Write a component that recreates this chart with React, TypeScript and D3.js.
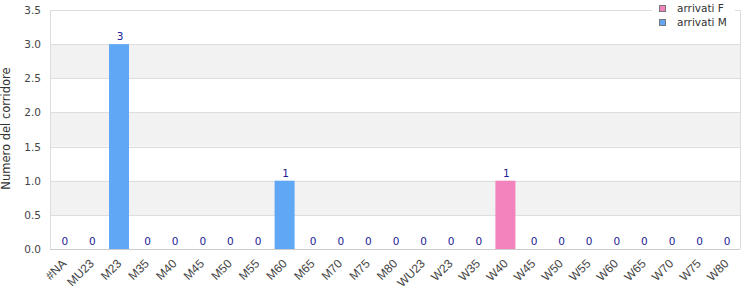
import React from "react";
import * as d3 from "d3";

const categories = ["#NA","MU23","M23","M35","M40","M45","M50","M55","M60","M65","M70","M75","M80","WU23","W23","W35","W40","W45","W50","W55","W60","W65","W70","W75","W80"];
const arrivatiF = [0,0,0,0,0,0,0,0,0,0,0,0,0,0,0,0,1,0,0,0,0,0,0,0,0];
const arrivatiM = [0,0,3,0,0,0,0,0,1,0,0,0,0,0,0,0,0,0,0,0,0,0,0,0,0];
const yTicks = [0,0.5,1,1.5,2,2.5,3,3.5];
const seriesNames = ["arrivati F","arrivati M"];
const colors = ["#f383bd","#60a8f5"];

export default function App() {
  const W = 750, H = 300;
  const left = 50, right = 740, top = 10, bottom = 249;
  const x = d3.scaleBand<string>().domain(categories).range([left, right]).padding(0);
  const y = d3.scaleLinear().domain([0, 3.5]).range([bottom, top]);
  const font = "DejaVu Sans, sans-serif";
  const barW = 20;
  return (
    <svg width={W} height={H} style={{ position: "absolute", left: 0, top: 0 }} fontFamily={font}>
      <rect x={0} y={0} width={W} height={H} fill="#fff" />
      {yTicks.slice(0, -1).map((t, i) => i % 2 === 1 ? (
        <rect key={"b" + i} x={left} y={y(t + 0.5)} width={right - left} height={y(t) - y(t + 0.5)} fill="#f2f2f2" />
      ) : null)}
      {yTicks.map((t) => (
        <line key={"g" + t} x1={left} x2={right} y1={Math.round(y(t)) + 0.5} y2={Math.round(y(t)) + 0.5} stroke="#dddddd" />
      ))}
      <line x1={left + 0.5} x2={left + 0.5} y1={top} y2={bottom} stroke="#dddddd" />
      <line x1={right + 0.5} x2={right + 0.5} y1={top} y2={bottom} stroke="#dddddd" />
      <line x1={left} x2={right} y1={Math.round(y(0)) + 0.5} y2={Math.round(y(0)) + 0.5} stroke="#cccccc" />
      {yTicks.map((t) => (
        <text key={"yl" + t} x={41} y={y(t) + 4} textAnchor="end" fontSize={10.5} fill="#444">{t.toFixed(1)}</text>
      ))}
      <text transform={`translate(10,${(top + bottom) / 2 - 1}) rotate(-90)`} textAnchor="middle" fontSize={11.5} fill="#333">Numero del corridore</text>
      {categories.map((c, i) => {
        const cx = (x(c) as number) + x.bandwidth() / 2;
        const f = arrivatiF[i], m = arrivatiM[i];
        const total = f + m;
        return (
          <g key={c}>
            {f > 0 && <rect x={cx - barW / 2} y={y(f)} width={barW} height={y(0) - y(f)} fill={colors[0]} />}
            {m > 0 && <rect x={cx - barW / 2} y={y(f + m)} width={barW} height={y(f) - y(f + m)} fill={colors[1]} />}
            <text x={cx + 1} y={total > 0 ? y(total) - 4 : y(0) - 4} textAnchor="middle" fontSize={10.5} fill="#1c1c96">{total}</text>
            <text transform={`translate(${cx + 1},${bottom + 13}) rotate(-45)`} textAnchor="end" dominantBaseline="middle" fontSize={12} fontFamily="Liberation Sans, Arial, sans-serif" fill="#444">{c}</text>
          </g>
        );
      })}
      <rect x={652} y={0} width={83} height={31} fill="#fff" />
      {seriesNames.map((s, i) => (
        <g key={s}>
          <rect x={659.5} y={5.5 + i * 14} width={6} height={6} fill={colors[i]} stroke="#777" />
          <text x={677} y={11.5 + i * 14} fontSize={10.5} fill="#333">{s}</text>
        </g>
      ))}
    </svg>
  );
}
